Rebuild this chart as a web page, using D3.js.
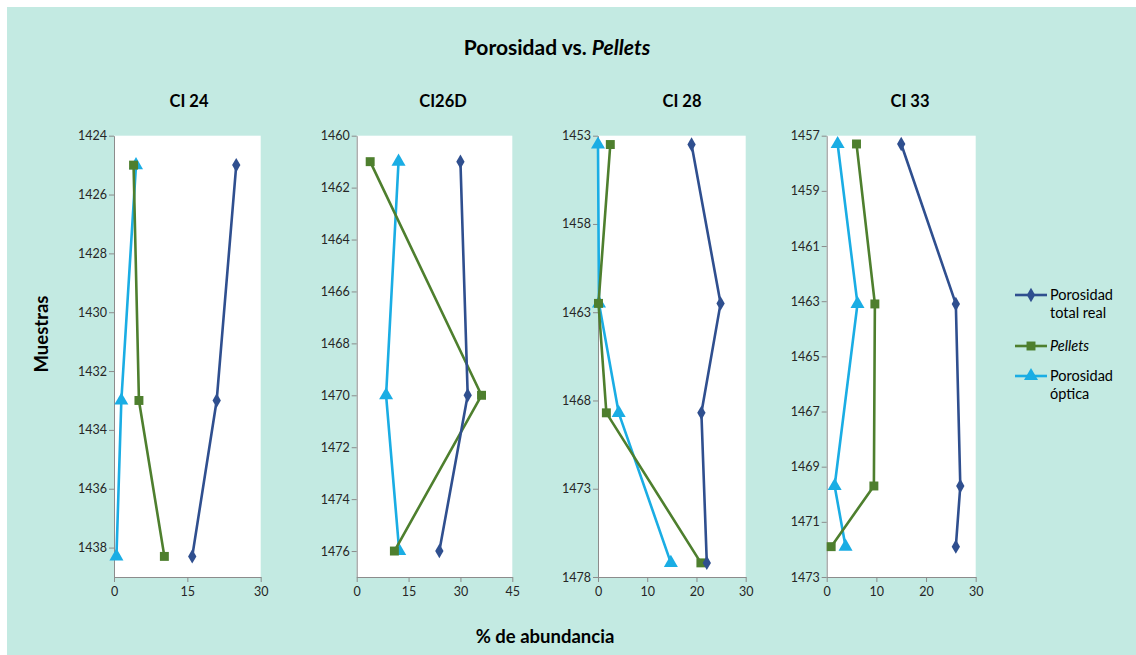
<!DOCTYPE html>
<html>
<head>
<meta charset="utf-8">
<script src="https://cdn.jsdelivr.net/npm/d3@7"></script>
<style>
  html, body { margin: 0; padding: 0; background: #ffffff; }
  svg { display: block; font-family: Lato, "Open Sans", sans-serif; }
</style>
</head>
<body>
<svg id="chart" width="1136" height="655"></svg>
<script>
// ---------- DATA ----------
const panelNames = ["CI 24", "CI26D", "CI 28", "CI 33"];
const seriesNames = ["Porosidad total real", "Pellets", "Porosidad óptica"];

const depthCI24 = [1425, 1433, 1438.3];
const totalCI24 = [25, 21, 16];
const pelletsCI24 = [4, 5.1, 10.3];
const opticaCI24 = [4.5, 1.5, 0.5];

const depthCI26D = [1461, 1470, 1476];
const totalCI26D = [30, 32.1, 23.9];
const pelletsCI26D = [3.9, 36.1, 10.9];
const opticaCI26D = [12.1, 8.5, 12.3];

const depthCI28 = [1453.5, 1462.5, 1468.7, 1477.2];
const totalCI28 = [19, 24.9, 21, 22.1];
const pelletsCI28 = [2.5, 0.1, 1.7, 20.9];
const opticaCI28 = [0, 0.2, 4.2, 14.8];

const depthCI33 = [1457.3, 1463.1, 1469.7, 1471.9];
const totalCI33 = [15, 26, 26.9, 26];
const pelletsCI33 = [6, 9.7, 9.5, 0.9];
const opticaCI33 = [2.2, 6.2, 1.6, 3.8];

const yDomains = [[1424, 1439], [1460, 1477], [1453, 1478], [1457, 1473]];
const yTicks = [
  [1424, 1426, 1428, 1430, 1432, 1434, 1436, 1438],
  [1460, 1462, 1464, 1466, 1468, 1470, 1472, 1474, 1476],
  [1453, 1458, 1463, 1468, 1473, 1478],
  [1457, 1459, 1461, 1463, 1465, 1467, 1469, 1471, 1473]
];
const xDomains = [[0, 30], [0, 45], [0, 30], [0, 30]];
const xTicks = [[0, 15, 30], [0, 15, 30, 45], [0, 10, 20, 30], [0, 10, 20, 30]];

// ---------- LAYOUT / STYLE ----------
const colors = ["#2F4F8F", "#4E7F2E", "#1AADE4"];
const symbols = [d3.symbolDiamond, d3.symbolSquare, d3.symbolTriangle];
const symSizes = [60, 80, 85];
const plots = [
  {x0: 114, x1: 260.7},
  {x0: 356.7, x1: 512.3},
  {x0: 598, x1: 745.7},
  {x0: 826.7, x1: 975.7}
];
const plotTop = 135.7, plotBottom = 577;
const panelTitleX = [189, 443, 682, 910];

const panelData = [
  {depth: depthCI24, series: [totalCI24, pelletsCI24, opticaCI24]},
  {depth: depthCI26D, series: [totalCI26D, pelletsCI26D, opticaCI26D]},
  {depth: depthCI28, series: [totalCI28, pelletsCI28, opticaCI28]},
  {depth: depthCI33, series: [totalCI33, pelletsCI33, opticaCI33]}
];

const svg = d3.select("#chart");
svg.append("rect").attr("x", 7).attr("y", 7).attr("width", 1129).attr("height", 648)
  .attr("fill", "#C3EAE2");

// Main title
const title = svg.append("text").attr("x", 557).attr("y", 55)
  .attr("text-anchor", "middle").attr("font-size", 21).attr("font-weight", "bold").attr("fill", "#000");
title.append("tspan").text("Porosidad vs. ");
title.append("tspan").attr("font-style", "italic").text("Pellets");

// Axis titles
svg.append("text").attr("transform", "translate(48,334) rotate(-90)")
  .attr("text-anchor", "middle").attr("font-size", 18.5).attr("font-weight", "bold").attr("fill", "#000")
  .text("Muestras");
svg.append("text").attr("x", 545).attr("y", 643)
  .attr("text-anchor", "middle").attr("font-size", 18.5).attr("font-weight", "bold").attr("fill", "#000")
  .text("% de abundancia");

panelData.forEach((pd, i) => {
  const p = plots[i];
  const x = d3.scaleLinear().domain(xDomains[i]).range([p.x0, p.x1]);
  const y = d3.scaleLinear().domain(yDomains[i]).range([plotTop, plotBottom]);
  const g = svg.append("g");

  g.append("text").attr("x", panelTitleX[i]).attr("y", 107).attr("text-anchor", "middle")
    .attr("font-size", 16.5).attr("font-weight", "bold").attr("fill", "#000").text(panelNames[i]);

  g.append("rect").attr("x", p.x0).attr("y", plotTop)
    .attr("width", p.x1 - p.x0).attr("height", plotBottom - plotTop).attr("fill", "#fff");

  const yAxis = g.append("g").attr("transform", `translate(${p.x0},0)`)
    .call(d3.axisLeft(y).tickValues(yTicks[i]).tickFormat(d3.format("d")).tickSize(5).tickSizeOuter(0));
  const xAxis = g.append("g").attr("transform", `translate(0,${plotBottom})`)
    .call(d3.axisBottom(x).tickValues(xTicks[i]).tickFormat(d3.format("d")).tickSize(5).tickSizeOuter(0));
  [yAxis, xAxis].forEach(a => {
    a.select(".domain").attr("stroke", "#8C8C8C").attr("stroke-width", 1);
    a.selectAll(".tick line").attr("stroke", "#8C8C8C");
    a.selectAll(".tick text").attr("font-size", 12.5).attr("fill", "#262626")
      .attr("font-family", "Lato, 'Open Sans', sans-serif");
  });
  yAxis.selectAll(".tick text").attr("x", -7);
  xAxis.selectAll(".tick text").attr("y", 10);

  [2, 1, 0].forEach(s => {
    const vals = pd.series[s];
    const pts = vals.map((v, k) => [x(v), y(pd.depth[k])]);
    g.append("path").attr("d", d3.line()(pts)).attr("fill", "none")
      .attr("stroke", colors[s]).attr("stroke-width", 2.6).attr("stroke-linejoin", "round");
    g.selectAll(null).data(pts).enter().append("path")
      .attr("transform", d => `translate(${d[0]},${d[1]})`)
      .attr("d", d3.symbol().type(symbols[s]).size(symSizes[s]))
      .attr("fill", colors[s]);
  });
});

// Legend
const legendRows = [
  {lineY: 295, lines: ["Porosidad", "total real"], italic: false},
  {lineY: 346, lines: ["Pellets"], italic: true},
  {lineY: 376, lines: ["Porosidad", "óptica"], italic: false}
];
legendRows.forEach((r, s) => {
  const lg = svg.append("g");
  lg.append("line").attr("x1", 1015).attr("x2", 1047).attr("y1", r.lineY).attr("y2", r.lineY)
    .attr("stroke", colors[s]).attr("stroke-width", 2.6);
  lg.append("path").attr("transform", `translate(1031,${r.lineY})`)
    .attr("d", d3.symbol().type(symbols[s]).size(symSizes[s])).attr("fill", colors[s]);
  r.lines.forEach((t, k) => {
    lg.append("text").attr("x", 1050).attr("y", r.lineY + 5 + k * 18)
      .attr("font-size", 14.5).attr("fill", "#000")
      .attr("font-style", r.italic ? "italic" : "normal").text(t);
  });
});
</script>
</body>
</html>
